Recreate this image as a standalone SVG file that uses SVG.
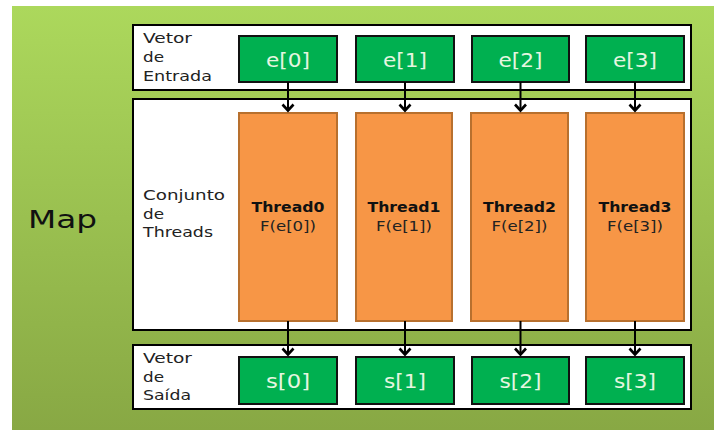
<svg xmlns="http://www.w3.org/2000/svg" width="714" height="430" viewBox="0 0 714 430">
<defs>
<linearGradient id="bg" x1="0" y1="0" x2="0" y2="1">
<stop offset="0" stop-color="#acd85c"/>
<stop offset="1" stop-color="#88a844"/>
</linearGradient>
<marker id="ah" viewBox="0 0 10 14" refX="8.5" refY="7" markerWidth="10" markerHeight="14" markerUnits="userSpaceOnUse" orient="auto" overflow="visible">
<path d="M2,1.5 L8,7 L2,12.5" fill="none" stroke="#000" stroke-width="2.6"/>
</marker>
<style>
.panel{fill:#fff;stroke:#000;stroke-width:2}
.g{fill:#00b050;stroke:#111;stroke-width:2}
.o{fill:#f79646;stroke:#b8702e;stroke-width:2}
.lbl{font-family:"DejaVu Sans",sans-serif;font-size:14px;fill:#222}
.gt{font-family:"DejaVu Sans",sans-serif;font-size:19px;fill:#e6f6e0;text-anchor:middle}
.tb{font-family:"DejaVu Sans",sans-serif;font-size:14px;font-weight:bold;fill:#111;text-anchor:middle}
.tf{font-family:"DejaVu Sans",sans-serif;font-size:14px;fill:#222;text-anchor:middle}
.con{stroke:#000;stroke-width:2;fill:none;marker-end:url(#ah)}
</style>
</defs>
<rect x="0" y="0" width="714" height="430" fill="#fff"/>
<rect x="12" y="6" width="702" height="424" fill="url(#bg)"/>
<text x="28" y="228" font-family="DejaVu Sans,sans-serif" font-size="24" fill="#111" textLength="69" lengthAdjust="spacingAndGlyphs">Map</text>

<g id="entrada">
<rect class="panel" x="133" y="25" width="558" height="65"/>
<text class="lbl" x="143" y="43" textLength="49" lengthAdjust="spacingAndGlyphs">Vetor</text>
<text class="lbl" x="143" y="62" textLength="21" lengthAdjust="spacingAndGlyphs">de</text>
<text class="lbl" x="143" y="81" textLength="69" lengthAdjust="spacingAndGlyphs">Entrada</text>
</g>
<g id="e0"><rect class="g" x="239" y="36" width="98" height="46"/><text class="gt" x="288" y="67" textLength="44" lengthAdjust="spacingAndGlyphs">e[0]</text></g>
<g id="e1"><rect class="g" x="356" y="36" width="98" height="46"/><text class="gt" x="405" y="67" textLength="44" lengthAdjust="spacingAndGlyphs">e[1]</text></g>
<g id="e2"><rect class="g" x="472" y="36" width="97" height="46"/><text class="gt" x="520.5" y="67" textLength="44" lengthAdjust="spacingAndGlyphs">e[2]</text></g>
<g id="e3"><rect class="g" x="586" y="36" width="98" height="46"/><text class="gt" x="635" y="67" textLength="44" lengthAdjust="spacingAndGlyphs">e[3]</text></g>

<g id="threads">
<rect class="panel" x="133" y="99" width="558" height="231"/>
<text class="lbl" x="143" y="200" textLength="82" lengthAdjust="spacingAndGlyphs">Conjunto</text>
<text class="lbl" x="143" y="219" textLength="21" lengthAdjust="spacingAndGlyphs">de</text>
<text class="lbl" x="143" y="237" textLength="70" lengthAdjust="spacingAndGlyphs">Threads</text>
</g>
<g id="t0"><rect class="o" x="239" y="113" width="98" height="208"/><text class="tb" x="288" y="212" textLength="73" lengthAdjust="spacingAndGlyphs">Thread0</text><text class="tf" x="288" y="231" textLength="56" lengthAdjust="spacingAndGlyphs">F(e[0])</text></g>
<g id="t1"><rect class="o" x="356" y="113" width="96" height="208"/><text class="tb" x="404" y="212" textLength="73" lengthAdjust="spacingAndGlyphs">Thread1</text><text class="tf" x="404" y="231" textLength="56" lengthAdjust="spacingAndGlyphs">F(e[1])</text></g>
<g id="t2"><rect class="o" x="471" y="113" width="97" height="208"/><text class="tb" x="519.5" y="212" textLength="73" lengthAdjust="spacingAndGlyphs">Thread2</text><text class="tf" x="519.5" y="231" textLength="56" lengthAdjust="spacingAndGlyphs">F(e[2])</text></g>
<g id="t3"><rect class="o" x="586" y="113" width="98" height="208"/><text class="tb" x="635" y="212" textLength="73" lengthAdjust="spacingAndGlyphs">Thread3</text><text class="tf" x="635" y="231" textLength="56" lengthAdjust="spacingAndGlyphs">F(e[3])</text></g>

<g id="saida">
<rect class="panel" x="133" y="345" width="558" height="64"/>
<text class="lbl" x="143" y="363" textLength="49" lengthAdjust="spacingAndGlyphs">Vetor</text>
<text class="lbl" x="143" y="382" textLength="21" lengthAdjust="spacingAndGlyphs">de</text>
<text class="lbl" x="143" y="400" textLength="48" lengthAdjust="spacingAndGlyphs">Saída</text>
</g>
<g id="s0"><rect class="g" x="239" y="357" width="98" height="47"/><text class="gt" x="288" y="388" textLength="44" lengthAdjust="spacingAndGlyphs">s[0]</text></g>
<g id="s1"><rect class="g" x="356" y="357" width="98" height="47"/><text class="gt" x="405" y="388" textLength="42" lengthAdjust="spacingAndGlyphs">s[1]</text></g>
<g id="s2"><rect class="g" x="472" y="357" width="97" height="47"/><text class="gt" x="520.5" y="388" textLength="42" lengthAdjust="spacingAndGlyphs">s[2]</text></g>
<g id="s3"><rect class="g" x="586" y="357" width="98" height="47"/><text class="gt" x="635" y="388" textLength="42" lengthAdjust="spacingAndGlyphs">s[3]</text></g>

<g id="connectors">
<line class="con" x1="288" y1="82" x2="288" y2="111"/>
<line class="con" x1="405" y1="82" x2="405" y2="111"/>
<line class="con" x1="520.5" y1="82" x2="520.5" y2="111"/>
<line class="con" x1="635" y1="82" x2="635" y2="111"/>
<line class="con" x1="288" y1="321" x2="288" y2="355"/>
<line class="con" x1="405" y1="321" x2="405" y2="355"/>
<line class="con" x1="520.5" y1="321" x2="520.5" y2="355"/>
<line class="con" x1="635" y1="321" x2="635" y2="355"/>
</g>
</svg>
